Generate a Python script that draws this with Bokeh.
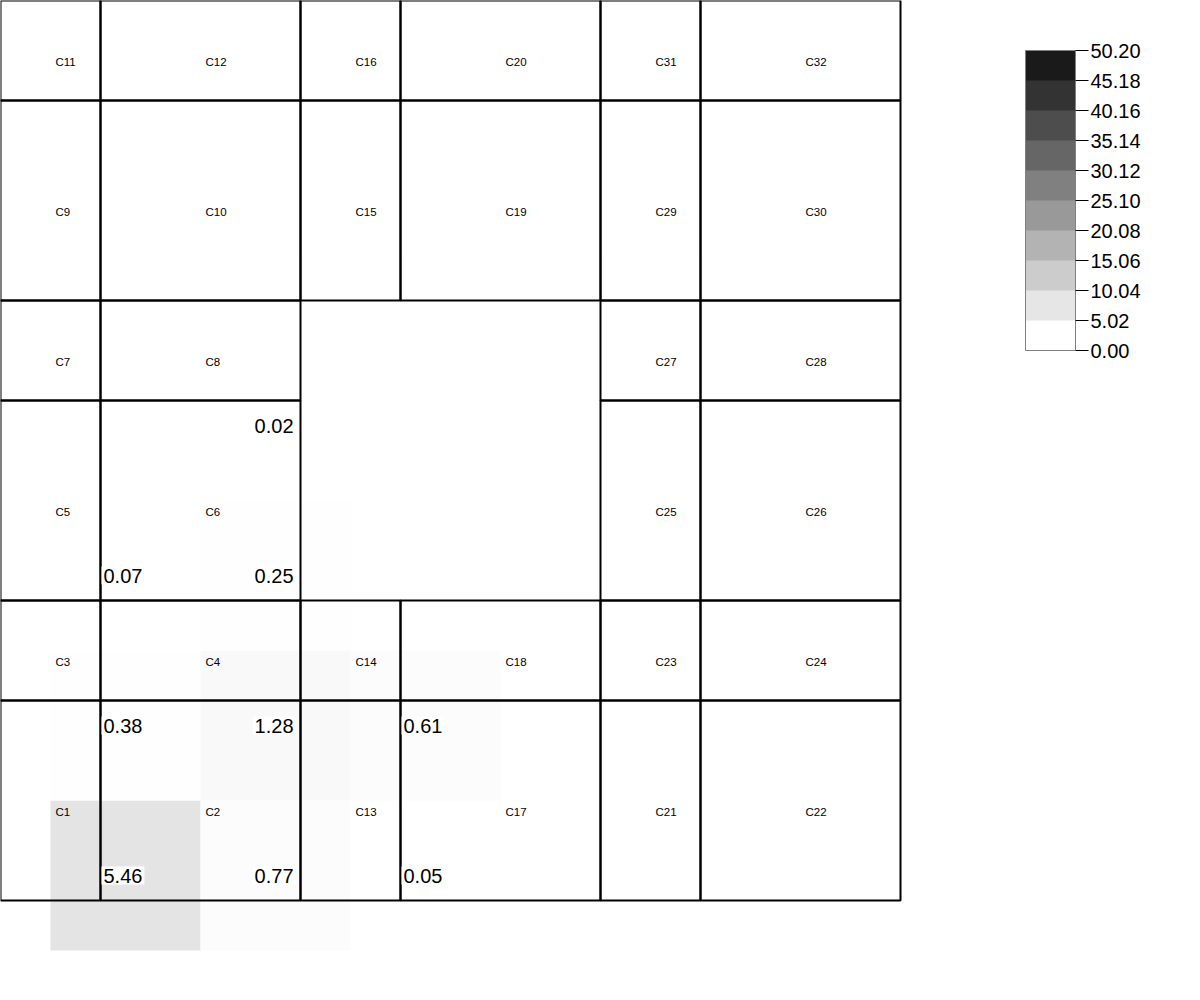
from bokeh.plotting import figure
from bokeh.models import (Range1d, ColumnDataSource, LinearColorMapper, ColorBar,
                          FixedTicker, PrintfTickFormatter)
from bokeh.core.properties import value
from bokeh.embed import file_html
from bokeh.resources import INLINE

# ---- room layout (data units) ----
rooms = ["C1", "C2", "C3", "C4", "C5", "C6", "C7", "C8", "C9", "C10", "C11", "C12",
         "C13", "C14", "C15", "C16", "C17", "C18", "C19", "C20",
         "C21", "C22", "C23", "C24", "C25", "C26", "C27", "C28", "C29", "C30", "C31", "C32"]
room_x0 = [0, 1, 0, 1, 0, 1, 0, 1, 0, 1, 0, 1, 3, 3, 3, 3, 4, 4, 4, 4,
           6, 7, 6, 7, 6, 7, 6, 7, 6, 7, 6, 7]
room_x1 = [1, 3, 1, 3, 1, 3, 1, 3, 1, 3, 1, 3, 4, 4, 4, 4, 6, 6, 6, 6,
           7, 9, 7, 9, 7, 9, 7, 9, 7, 9, 7, 9]
room_y0 = [0, 0, 2, 2, 3, 3, 5, 5, 6, 6, 8, 8, 0, 2, 6, 8, 0, 2, 6, 8,
           0, 0, 2, 2, 3, 3, 5, 5, 6, 6, 8, 8]
room_y1 = [2, 2, 3, 3, 5, 5, 6, 6, 8, 8, 9, 9, 2, 3, 8, 9, 2, 3, 8, 9,
           2, 2, 3, 3, 5, 5, 6, 6, 8, 8, 9, 9]

# ---- heatmap grid ----
heat_cols = [1.25, 2.75, 4.25]
heat_rows = [0.25, 1.75, 3.25, 4.75]
heat_size = 1.5
heat_values = [
    [5.46, 0.77, 0.05],
    [0.38, 1.28, 0.61],
    [0.07, 0.25, None],
    [None, 0.02, None],
]

# ---- sensor value labels ----
label_x = [1, 3, 4, 1, 3, 4, 1, 3, 3]
label_y = [0.25, 0.25, 0.25, 1.75, 1.75, 1.75, 3.25, 3.25, 4.75]
label_val = [5.46, 0.77, 0.05, 0.38, 1.28, 0.61, 0.07, 0.25, 0.02]
label_align = ["left", "right", "left", "left", "right", "left", "left", "right", "right"]

# ---- colour bar ----
cb_low, cb_high = 0.0, 50.2
cb_ticks = [0.00, 5.02, 10.04, 15.06, 20.08, 25.10, 30.12, 35.14, 40.16, 45.18, 50.20]
cb_palette = ["#ffffff", "#e6e6e6", "#cccccc", "#b3b3b3", "#999999",
              "#808080", "#666666", "#4d4d4d", "#333333", "#1a1a1a"]

FONT = "Liberation Sans"

p = figure(width=1200, height=1000, x_range=Range1d(0, 12), y_range=Range1d(-1, 9),
           output_backend="svg", toolbar_location=None, min_border=0,
           x_axis_location=None, y_axis_location=None)
p.grid.visible = False
p.outline_line_color = None
p.background_fill_color = "white"

# heatmap cells
gray256 = ["#%02x%02x%02x" % (g, g, g) for g in range(255, -1, -1)]
heat_mapper = LinearColorMapper(palette=gray256, low=cb_low, high=cb_high)
hx, hy, hv = [], [], []
for r, yv in enumerate(heat_rows):
    for c, xv in enumerate(heat_cols):
        v = heat_values[r][c]
        if v is not None:
            hx.append(xv)
            hy.append(yv)
            hv.append(v)
heat_src = ColumnDataSource(dict(x=hx, y=hy, v=hv))
p.rect(x="x", y="y", width=heat_size, height=heat_size, source=heat_src,
       fill_color={"field": "v", "transform": heat_mapper}, line_color=None)

# rooms
room_src = ColumnDataSource(dict(
    name=rooms, left=room_x0, right=room_x1, bottom=room_y0, top=room_y1,
    cx=[(a + b) / 2 for a, b in zip(room_x0, room_x1)],
    cy=[(a + b) / 2 for a, b in zip(room_y0, room_y1)],
))
p.quad(left="left", right="right", bottom="bottom", top="top", source=room_src,
       fill_color=None, line_color="black", line_width=2)
p.text(x="cx", y="cy", text="name", source=room_src, text_font=value(FONT),
       text_font_size="11.5px", text_color="black", text_align="left",
       text_baseline="top", x_offset=5, y_offset=5)

# value labels
lab_src = ColumnDataSource(dict(
    x=label_x, y=label_y, t=["%.2f" % v for v in label_val], a=label_align,
    xo=[1 if a == "left" else -5 for a in label_align],
))
p.text(x="x", y="y", text="t", source=lab_src, text_font=value(FONT),
       text_font_size="20px", text_color="black", text_align="a",
       text_baseline="middle", x_offset="xo",
       background_fill_color="white", padding=2)

# colour bar
cb_mapper = LinearColorMapper(palette=cb_palette, low=cb_low, high=cb_high)
cb = ColorBar(color_mapper=cb_mapper, ticker=FixedTicker(ticks=cb_ticks),
              formatter=PrintfTickFormatter(format="%.2f"),
              orientation="vertical", width=50, height=300,
              location=(1025, 650), padding=0, margin=0,
              major_label_text_font=FONT, major_label_text_font_size="20px",
              major_label_text_color="black",
              major_tick_out=13, major_tick_in=0, major_tick_line_color="black",
              minor_tick_line_color=None,
              bar_line_color="#808080", label_standoff=2,
              background_fill_alpha=0, border_line_color=None)
p.add_layout(cb)

open("out.html", "w").write(file_html(p, INLINE))
